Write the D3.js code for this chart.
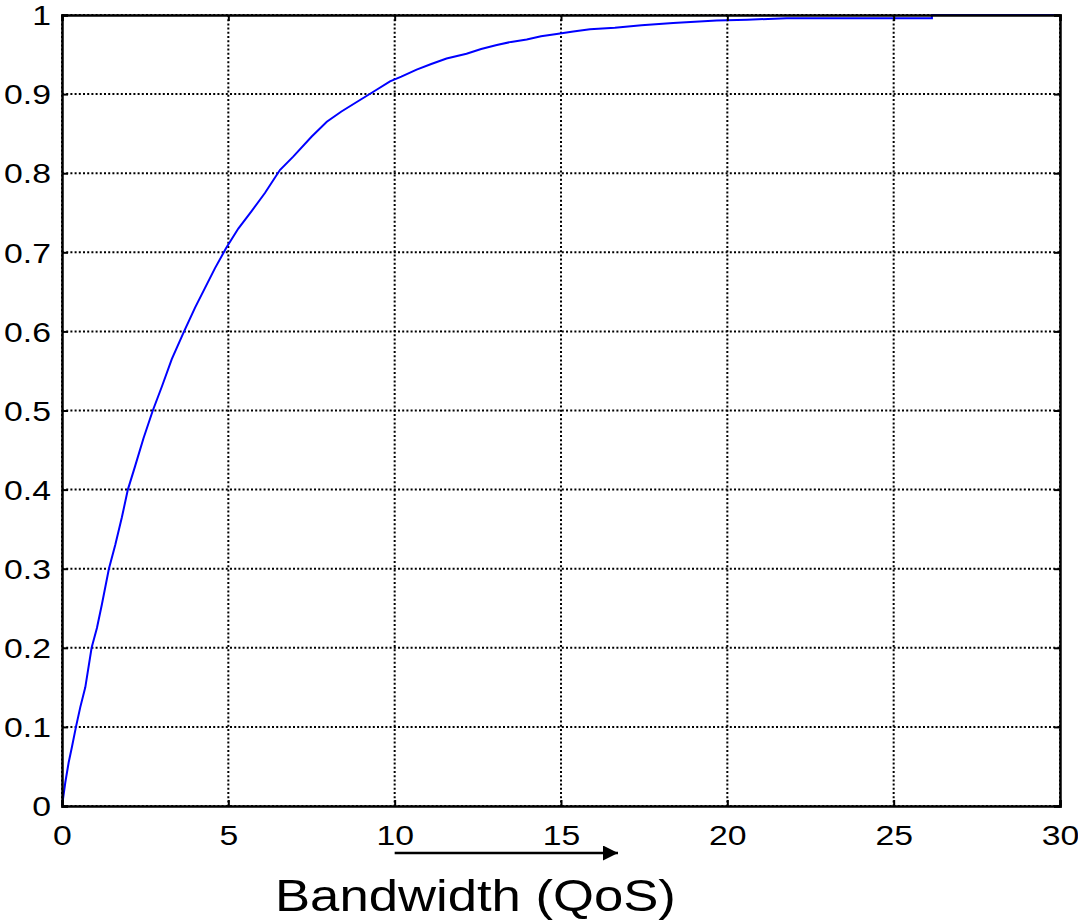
<!DOCTYPE html>
<html><head><meta charset="utf-8">
<script src="https://cdn.jsdelivr.net/npm/d3@7"></script>
<style>body{margin:0;background:#fff}svg{display:block}text{font-family:"Liberation Sans",Arial,sans-serif}</style>
</head><body>
<svg id="c" width="1078" height="923"></svg>
<script>
const xTicks = [0, 5, 10, 15, 20, 25, 30];
const yTicks = [0, 0.1, 0.2, 0.3, 0.4, 0.5, 0.6, 0.7, 0.8, 0.9, 1];
const bandwidth = [0, 0.1, 0.2, 0.3, 0.42, 0.55, 0.7, 0.89, 1.05, 1.2, 1.41, 1.6, 1.8, 1.98, 2.2, 2.45, 2.73, 3.0, 3.3, 3.67, 4.0, 4.3, 4.6, 4.93, 5.3, 5.7, 6.1, 6.55, 6.95, 7.5, 7.96, 8.4, 8.86, 9.36, 9.86, 10.2, 10.66, 11.1, 11.56, 12.16, 12.6, 13.07, 13.5, 13.97, 14.4, 14.87, 15.37, 15.87, 16.62, 17.42, 18.37, 19.68, 20.6, 21.78, 26.15, 26.15, 30];
const cdf = [0, 0.03, 0.055, 0.075, 0.1, 0.125, 0.15, 0.2, 0.225, 0.255, 0.3, 0.33, 0.365, 0.4, 0.43, 0.465, 0.5, 0.53, 0.565, 0.6, 0.63, 0.655, 0.68, 0.705, 0.73, 0.752, 0.775, 0.804, 0.821, 0.846, 0.865, 0.878, 0.890, 0.903, 0.916, 0.922, 0.931, 0.938, 0.945, 0.951, 0.957, 0.962, 0.966, 0.969, 0.973, 0.976, 0.979, 0.982, 0.984, 0.987, 0.990, 0.993, 0.994, 0.996, 0.996, 1.0, 1.0];
const xLabel = "Bandwidth (QoS)";

const svg = d3.select("#c");
const L = 62, R = 1060, T = 15, B = 806;
const SX = 1.25; // horizontal stretch of label glyphs
const x = d3.scaleLinear().domain([0, 30]).range([L, R]);
const y = d3.scaleLinear().domain([0, 1]).range([B, T]);

// grid
const grid = svg.append("g").attr("stroke", "#000").attr("stroke-width", 2).attr("stroke-dasharray", "2,2.2");
grid.selectAll(".gx").data(xTicks).join("line")
  .attr("x1", d => x(d)).attr("x2", d => x(d)).attr("y1", T).attr("y2", B);
grid.selectAll(".gy").data(yTicks).join("line")
  .attr("x1", L).attr("x2", R).attr("y1", d => y(d)).attr("y2", d => y(d));

// curve
const pts = bandwidth.map((v, i) => [v, cdf[i]]);
svg.append("path").datum(pts)
  .attr("fill", "none").attr("stroke", "#0000ff").attr("stroke-width", 2)
  .attr("d", d3.line().x(d => x(d[0])).y(d => y(d[1])));

// axes
const fmt = d => (d === 0 ? "0" : d === 1 ? "1" : d3.format(".1f")(d));
const axB = svg.append("g").attr("transform", `translate(0,${B})`)
  .call(d3.axisBottom(x).tickValues(xTicks).tickSize(-6).tickPadding(20).tickFormat(d3.format("d")));
const axT = svg.append("g").attr("transform", `translate(0,${T})`)
  .call(d3.axisTop(x).tickValues(xTicks).tickSize(-6).tickFormat(""));
const axL = svg.append("g").attr("transform", `translate(${L},0)`)
  .call(d3.axisLeft(y).tickValues(yTicks).tickSize(-6).tickPadding(10).tickFormat(fmt));
const axR = svg.append("g").attr("transform", `translate(${R},0)`)
  .call(d3.axisRight(y).tickValues(yTicks).tickSize(-6).tickFormat(""));
[axB, axT, axL, axR].forEach(a => {
  a.select(".domain").attr("stroke", "#000").attr("stroke-width", 2.5);
  a.selectAll(".tick line").attr("stroke", "#000").attr("stroke-width", 2);
  a.selectAll("text").attr("font-size", 27).attr("fill", "#000").attr("font-family", '"Liberation Sans",Arial,sans-serif');
});
axL.selectAll("text").attr("dy", "0.36em").attr("x", -11 / SX).attr("transform", `scale(${SX},1)`);
axB.selectAll("text").attr("transform", `scale(${SX},1)`);

// arrow
svg.append("defs").append("marker").attr("id", "ah").attr("viewBox", "0 0 10 10")
  .attr("refX", 10).attr("refY", 5).attr("markerWidth", 8).attr("markerHeight", 6)
  .attr("markerUnits", "strokeWidth").attr("orient", "auto")
  .append("path").attr("d", "M0,0L10,5L0,10Z").attr("fill", "#000");
svg.append("line").attr("x1", x(10)).attr("x2", 618).attr("y1", 853).attr("y2", 853)
  .attr("stroke", "#000").attr("stroke-width", 2.5).attr("marker-end", "url(#ah)");

svg.append("text").attr("transform", "translate(275,911) scale(1.17,1)").attr("font-size", 45).text(xLabel);
</script>
</body></html>
